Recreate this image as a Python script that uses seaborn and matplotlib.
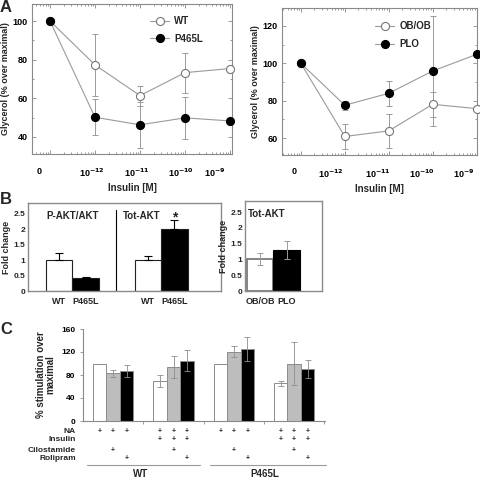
import numpy as np
import pandas as pd
import seaborn as sns
import matplotlib.pyplot as plt
import matplotlib.transforms as mtransforms
from matplotlib.ticker import FixedLocator, MultipleLocator, LogLocator, NullFormatter

# panel A: glycerol release vs insulin (the "0" dose sits one decade below 10^-12)
insulin = [1e-13, 1e-12, 1e-11, 1e-10, 1e-9]
dose_labels = ['0', '10$^{-12}$', '10$^{-11}$', '10$^{-10}$', '10$^{-9}$']
wt_gly = [100, 77.3, 61.4, 73.3, 75.4]
wt_sem = [0, 16, 5.2, 10.4, 0]
p465l_gly = [100, 50.2, 46.3, 49.9, 48.3]
p465l_sem = [0, 9.3, 12, 11, 0]
obob_gly = [100, 60.9, 63.9, 78.1, 75.8]
obob_sem = [0, 6.7, 9.2, 6.6, 0]
plo_gly = [100, 77.6, 84.0, 95.9, 104.8]
plo_sem = [0, 2.5, 6.6, 29.5, 0]

# panel B: AKT quantification
akt_labels = ['WT', 'P465L', 'WT', 'P465L']
akt_pos = [0, 1, 3.35, 4.35]
akt_fold = [1.0, 0.42, 1.0, 2.0]
akt_err = [0.24, 0.02, 0.14, 0.31]
tot_labels = ['OB/OB', 'PLO']
tot_fold = [1.0, 1.3]
tot_err = [0.19, 0.29]

# panel C: % stimulation over maximal
c_groups = ['WT NA', 'WT NA+Ins', 'P465L NA', 'P465L NA+Ins']
c_treat = ['none', 'Cilostamide', 'Rolipram']
c_none = [100, 70, 100, 65.5]
c_none_err = [0, 10, 0, 4]
c_cilo = [83, 94, 120.5, 100]
c_cilo_err = [6, 19, 9.5, 37]
c_roli = [87, 105, 124.5, 90]
c_roli_err = [10, 18, 21, 16]
row_names = ['NA', 'Insulin', 'Cilostamide', 'Rolipram']

sns.set_style("ticks")
plt.rcParams['font.family'] = ['Liberation Sans', 'DejaVu Sans']
plt.rcParams['font.weight'] = 'bold'
plt.rcParams['axes.labelweight'] = 'bold'

GRAY = '#9a9a9a'
FRAME = '#8a8a8a'

fig = plt.figure(figsize=(4.8, 4.78), dpi=100)


def px(l, t, r, b):
    return [l / 480, 1 - b / 478, (r - l) / 480, (b - t) / 478]


def dose_panel(ax, series, xlim, ylim, yticks, leg_xy, label_shift):
    ax.set_xscale('log')
    for y, e, lab, face, edge in series:
        sns.lineplot(x=insulin, y=y, ax=ax, color=GRAY, lw=0.8, marker='o', ms=5.8,
                     mfc=face, mec=edge, mew=0.8, label=lab, clip_on=False, zorder=3)
        keep = [i for i in range(len(e)) if e[i] > 0]
        ax.errorbar([insulin[i] for i in keep], [y[i] for i in keep],
                    yerr=[e[i] for i in keep], fmt='none', ecolor=GRAY,
                    elinewidth=0.7, capsize=2.5, capthick=0.7, zorder=2)
    ax.set_xlim(*xlim)
    ax.set_ylim(*ylim)
    ax.xaxis.set_major_locator(FixedLocator(insulin))
    ax.set_xticklabels(dose_labels)
    ax.xaxis.set_minor_locator(LogLocator(base=10, subs=np.arange(2, 10), numticks=30))
    ax.xaxis.set_minor_formatter(NullFormatter())
    ax.set_yticks(yticks)
    ax.yaxis.set_minor_locator(MultipleLocator(10))
    ax.tick_params(which='both', direction='in', top=True, right=True, colors=FRAME,
                   labelcolor='black', labelsize=6.5, width=0.6)
    ax.tick_params(which='major', length=3)
    ax.tick_params(which='minor', length=1.5)
    ax.tick_params(axis='x', pad=9)
    ax.tick_params(axis='y', pad=3)
    for s in ax.spines.values():
        s.set_color(FRAME)
        s.set_linewidth(0.8)
    ax.set_xlabel('Insulin [M]', fontsize=7, labelpad=3)
    ax.set_ylabel('Glycerol (% over maximal)', fontsize=6.5, labelpad=2)
    ax.legend(loc='upper left', bbox_to_anchor=leg_xy, frameon=False, fontsize=7,
              handlelength=2.0, handletextpad=0.5, labelspacing=0.8,
              borderaxespad=0, borderpad=0)
    # the original tick labels sit a little left of their decade
    for lab, dx in zip(ax.get_xticklabels(), label_shift):
        lab.set_transform(lab.get_transform() +
                          mtransforms.ScaledTranslation(dx / 100, 0, fig.dpi_scale_trans))


ax1 = fig.add_axes(px(32, 4, 232, 154))
dose_panel(ax1, [(wt_gly, wt_sem, 'WT', 'white', '#777777'),
                 (p465l_gly, p465l_sem, 'P465L', 'black', 'black')],
           (10 ** -13.4, 10 ** -8.956), (31.2, 108.8), [40, 60, 80, 100],
           (0.59, 0.92), [-11, -3, -3, -4, -15])

ax2 = fig.add_axes(px(282, 8, 477, 155))
dose_panel(ax2, [(obob_gly, obob_sem, 'OB/OB', 'white', '#777777'),
                 (plo_gly, plo_sem, 'PLO', 'black', 'black')],
           (10 ** -13.43, 10 ** -8.99), (51, 129.6), [60, 80, 100, 120],
           (0.477, 0.91), [-7, -14, -11, -11, -13])


def fold_axes(ax):
    ax.set_ylim(0, 2.85)
    ax.set_yticks([0, 0.5, 1, 1.5, 2, 2.5])
    ax.set_yticklabels(['0', '0.5', '1', '1.5', '2', '2.5'])
    ax.tick_params(axis='y', length=0, labelsize=6, pad=2)
    ax.tick_params(axis='x', length=0, labelsize=6.5, pad=4)
    for s in ax.spines.values():
        s.set_color(FRAME)
        s.set_linewidth(1.0)
    ax.set_ylabel('Fold change', fontsize=6.5, labelpad=1.5)
    ax.set_xlabel('')


axb = fig.add_axes(px(28, 203, 221, 291))
sns.barplot(x=akt_pos, y=akt_fold, hue=akt_labels, native_scale=True, dodge=False,
            width=1, palette={'WT': 'white', 'P465L': 'black'}, edgecolor='#222222',
            linewidth=0.8, errorbar=None, legend=False, ax=axb)
axb.errorbar(akt_pos, akt_fold, yerr=[np.zeros(len(akt_err)), akt_err], fmt='none',
             ecolor='black', elinewidth=0.8, capsize=3, capthick=0.8)
axb.plot([2.15, 2.15], [0, 2.62], color='black', lw=0.8)
axb.set_xlim(-1.17, 6.11)
axb.set_xticks(akt_pos)
axb.set_xticklabels(akt_labels)
fold_axes(axb)
axb.text(0.5, 2.43, 'P-AKT/AKT', ha='center', va='center', fontsize=7)
axb.text(3.1, 2.43, 'Tot-AKT', ha='center', va='center', fontsize=7)
axb.text(4.35, 2.38, '*', ha='center', va='center', fontsize=10)

axb2 = fig.add_axes(px(245, 201, 322, 291))
sns.barplot(x=tot_labels, y=tot_fold, hue=tot_labels, width=1,
            palette={'OB/OB': 'white', 'PLO': 'black'}, edgecolor='black',
            linewidth=0.8, errorbar=None, legend=False, ax=axb2)
axb2.patches[0].set_edgecolor('#707070')
axb2.patches[0].set_linewidth(1.2)
axb2.errorbar([0, 1], tot_fold, yerr=tot_err, fmt='none', ecolor=GRAY,
              elinewidth=0.7, capsize=2.5, capthick=0.7)
axb2.set_xlim(-0.57, 2.34)
fold_axes(axb2)
axb2.text(-0.45, 2.45, 'Tot-AKT', ha='left', va='center', fontsize=7)

# panel C
c_df = pd.DataFrame({
    'group': np.repeat(c_groups, 3),
    'treat': c_treat * 4,
    'value': np.ravel(np.column_stack([c_none, c_cilo, c_roli])),
    'err': np.ravel(np.column_stack([c_none_err, c_cilo_err, c_roli_err])),
})
axc = fig.add_axes(px(83, 329, 325, 421))
sns.barplot(data=c_df, x='group', y='value', hue='treat', hue_order=c_treat,
            order=c_groups, palette=['white', '#bdbdbd', 'black'], width=0.67,
            edgecolor='#8c8c8c', linewidth=0.7, errorbar=None, legend=False, ax=axc)
step = 0.67 / 3
c_x = np.array([gi + (ti - 1) * step for gi in range(4) for ti in range(3)])
axc.errorbar(c_x, c_df['value'], yerr=c_df['err'], fmt='none', ecolor='#8c8c8c',
             elinewidth=0.6, capsize=2, capthick=0.6)
axc.set_xlim(-0.5, 3.51)
axc.set_ylim(0, 160)
axc.set_yticks([0, 40, 80, 120, 160])
axc.set_xticks([0.5, 1.5, 2.5, 3.5])
axc.set_xticklabels([])
axc.tick_params(length=2, colors=FRAME, labelcolor='black', labelsize=6, width=0.6)
sns.despine(ax=axc)
for s in ['left', 'bottom']:
    axc.spines[s].set_color(FRAME)
    axc.spines[s].set_linewidth(0.8)
axc.set_xlabel('')
axc.set_ylabel('% stimulation over\nmaximal', fontsize=7, labelpad=4, linespacing=1.0)

tr = mtransforms.blended_transform_factory(axc.transData, axc.transAxes)
row_y = [-0.109, -0.196, -0.326, -0.413]
for name, yy in zip(row_names, row_y):
    axc.text(-0.029, yy, name, transform=axc.transAxes, ha='right', va='center', fontsize=6)
for k, (gi, ti) in enumerate([(g, t) for g in range(4) for t in range(3)]):
    marks = [True, gi in (1, 3), ti == 1, ti == 2]
    for on, yy in zip(marks, row_y):
        if on:
            axc.text(c_x[k], yy, '+', transform=tr, ha='center', va='center', fontsize=5)
for x0, x1, lab in [(-0.43, 1.44, 'WT'), (1.61, 3.52, 'P465L')]:
    axc.plot([x0, x1], [-0.478, -0.478], transform=tr, color=GRAY, lw=0.8, clip_on=False)
    axc.text((x0 + x1) / 2 - 0.05, -0.58, lab, transform=tr, ha='center', va='center', fontsize=7)

fig.text(0.0, 1.0, 'A', ha='left', va='top', fontsize=12, weight='bold')
fig.text(0.0, 1 - 192 / 478, 'B', ha='left', va='top', fontsize=12, weight='bold')
fig.text(0.0, 1 - 322 / 478, 'C', ha='left', va='top', fontsize=12, weight='bold')

fig.savefig('out.png', dpi=100)
